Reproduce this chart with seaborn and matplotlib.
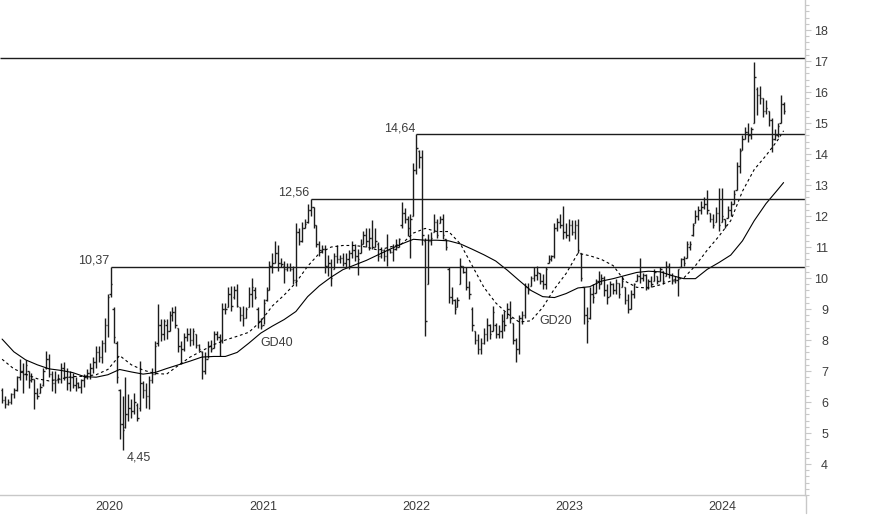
import numpy as np
import pandas as pd
import matplotlib
matplotlib.use("Agg")
import matplotlib.pyplot as plt
import matplotlib.dates as mdates
from matplotlib.ticker import FixedLocator, MultipleLocator
from matplotlib.lines import Line2D
import seaborn as sns
from datetime import datetime

# ---------------- data (weekly OHLC) ----------------
first_week = "2019-05-28"

high = [
    6.46, 6.20, 6.10, 6.30, 6.46, 6.85, 7.40, 7.27, 7.37, 7.00,
    6.95, 6.75, 6.46, 6.60, 7.10, 7.65, 7.55, 7.00, 7.00, 6.90,
    7.27, 7.30, 7.10, 7.00, 6.95, 6.80, 6.65, 6.75, 6.90, 7.07,
    7.27, 7.45, 7.80, 7.80, 8.00, 8.70, 9.50, 10.37,
    9.05, 7.98, 6.43, 6.20, 6.80, 6.27, 6.10, 6.30, 5.97, 7.33,
    6.68, 6.60, 6.85, 7.10, 7.98, 9.17, 8.69, 8.69, 8.69, 8.95,
    9.05, 9.10, 8.40, 7.98, 8.24, 8.40, 8.40, 8.40, 8.20, 7.88,
    7.65, 7.60, 7.98, 8.00, 8.30, 8.30, 8.20, 9.20, 9.20, 9.70,
    9.75, 9.75, 9.80, 9.05, 9.10, 9.05, 9.70, 10.00, 9.70, 9.05,
    8.70, 9.33, 9.70, 10.56, 10.80, 11.20, 11.05, 10.65, 10.56, 10.50,
    10.50, 10.40, 11.76, 11.63, 11.80, 11.90, 12.40, 12.56, 12.30, 11.70,
    11.20, 11.05, 11.05, 10.73, 10.60, 10.80, 11.05, 10.73, 10.80,
    10.80, 10.90, 11.20, 11.10, 10.95, 11.27, 11.53, 11.63, 11.63, 11.86,
    11.63, 11.15, 11.00, 10.95, 11.43, 10.95, 11.10, 11.27, 11.30, 12.45,
    12.27, 12.00, 12.08, 13.70, 14.64, 14.12, 14.12, 11.30, 11.43, 11.50,
    12.08, 11.92, 12.00, 12.08, 11.27, 10.34, 9.70, 9.33, 9.40,
    10.65, 10.40, 10.34, 9.92, 9.05, 8.30, 8.20, 8.07, 8.40, 8.72,
    8.53, 9.10, 8.56, 8.50, 8.85, 8.95, 9.20, 9.27, 8.56, 8.07,
    8.80, 8.95, 9.85, 9.85, 10.08, 10.34, 10.40, 10.17, 10.13, 10.34,
    10.73, 10.73, 11.76, 11.95, 12.08, 12.34, 11.76, 11.92, 11.86,
    11.86, 11.90, 10.80, 9.70, 9.05, 9.70, 9.80, 9.98, 10.24, 10.13,
    10.08, 9.80, 9.92, 9.85, 9.98, 9.85, 10.08, 9.70, 9.50, 9.60,
    9.85, 10.13, 10.65, 10.17, 10.13, 9.98, 10.05, 10.30, 10.08, 10.34,
    10.24, 10.56, 10.50, 10.15, 10.05, 10.30, 10.65, 10.70, 11.20,
    11.20, 11.76, 12.18, 12.34, 12.47, 12.60, 12.83, 12.10, 12.08, 12.30,
    12.90, 12.90, 11.92, 12.34, 12.50, 12.83, 13.73, 14.18, 14.60, 14.86,
    15.00, 14.86, 16.97, 16.15, 16.20, 15.80, 15.74, 15.40, 15.15, 14.80,
    15.00, 15.90, 15.67,
]

low = [
    5.97, 5.80, 5.90, 5.95, 6.13, 6.36, 6.70, 6.30, 6.70, 6.46,
    6.65, 5.78, 6.10, 6.30, 6.52, 7.07, 6.80, 6.36, 6.30, 6.60,
    6.60, 6.70, 6.40, 6.36, 6.46, 6.36, 6.45, 6.30, 6.50, 6.75,
    6.75, 6.93, 7.10, 7.30, 7.27, 7.60, 8.10, 9.40,
    7.90, 6.60, 4.80, 4.45, 5.16, 5.40, 5.50, 5.60, 5.40, 5.71,
    6.13, 5.80, 5.78, 6.60, 6.90, 7.80, 7.98, 8.00, 8.04, 8.30,
    8.62, 8.40, 7.60, 7.23, 7.65, 7.98, 7.80, 7.85, 7.75, 7.65,
    6.75, 6.90, 7.43, 7.60, 7.75, 8.00, 7.50, 7.90, 8.85, 9.05,
    8.95, 9.33, 9.05, 8.62, 8.46, 8.72, 9.05, 9.05, 9.33, 8.40,
    8.37, 8.53, 9.27, 9.60, 10.17, 10.47, 10.24, 10.34, 9.85, 10.24,
    10.24, 9.80, 9.75, 11.05, 11.15, 11.60, 11.76, 12.00, 11.60, 11.00,
    10.70, 10.80, 10.15, 10.08, 9.75, 10.30, 10.47, 10.50, 10.40,
    10.35, 10.30, 10.65, 10.56, 10.10, 10.80, 11.10, 11.00, 10.90, 10.95,
    11.00, 10.56, 10.65, 10.56, 10.40, 10.80, 10.56, 10.90, 11.00, 11.63,
    11.76, 11.37, 10.65, 12.00, 13.37, 13.55, 11.05, 8.14, 9.80, 11.05,
    11.47, 11.30, 11.76, 11.27, 10.90, 9.20, 9.17, 8.85, 9.05,
    9.80, 10.15, 9.60, 9.33, 8.30, 7.88, 7.56, 7.56, 7.88, 7.98,
    8.04, 8.30, 8.07, 8.07, 8.07, 8.30, 8.72, 8.56, 7.88, 7.30,
    7.56, 8.53, 8.72, 9.50, 9.75, 9.92, 9.95, 9.80, 9.65, 9.65,
    10.50, 10.56, 10.65, 11.53, 11.63, 11.27, 11.30, 11.20, 11.40,
    11.27, 10.80, 9.92, 8.53, 7.90, 8.69, 9.20, 9.53, 9.65, 9.80,
    9.43, 9.17, 9.43, 9.50, 9.47, 9.37, 9.70, 9.17, 8.88, 9.00,
    9.37, 9.92, 9.85, 9.92, 9.60, 9.65, 9.70, 9.92, 9.80, 9.92,
    9.80, 10.08, 10.00, 9.80, 9.85, 9.43, 10.34, 10.40, 10.65,
    10.90, 11.37, 11.76, 11.86, 12.08, 12.24, 12.08, 11.80, 11.60, 11.80,
    11.53, 11.80, 11.63, 11.95, 12.00, 12.40, 12.83, 13.40, 14.12, 14.50,
    14.40, 14.50, 15.00, 15.25, 15.60, 15.20, 15.30, 14.90, 14.05, 14.45,
    14.55, 15.00, 15.30,
]

open_ = [
    6.40, 6.05, 5.95, 6.00, 6.25, 6.40, 6.80, 7.00, 6.90, 7.00,
    6.70, 6.75, 6.30, 6.30, 6.55, 7.10, 7.40, 6.90, 6.60, 6.70,
    6.75, 7.10, 6.80, 6.60, 6.80, 6.55, 6.60, 6.50, 6.70, 6.80,
    6.95, 7.10, 7.30, 7.60, 7.45, 7.90, 8.50, 9.50,
    9.00, 7.90, 6.40, 5.30, 5.20, 5.60, 5.80, 5.70, 5.90, 5.80,
    6.60, 6.40, 6.20, 6.70, 6.90, 7.90, 8.50, 8.20, 8.50, 8.30,
    8.80, 8.90, 8.40, 7.80, 7.70, 8.10, 8.20, 8.00, 8.20, 7.85,
    7.60, 7.00, 7.40, 7.80, 7.75, 8.20, 8.10, 8.00, 9.00, 9.05,
    9.50, 9.40, 9.60, 9.05, 8.80, 8.70, 9.05, 9.50, 9.60, 9.00,
    8.60, 8.50, 9.30, 9.60, 10.40, 10.50, 10.80, 10.50, 10.40, 10.30,
    10.35, 10.30, 9.95, 11.50, 11.20, 11.60, 11.80, 12.20, 12.30, 11.70,
    11.10, 10.90, 10.95, 10.40, 10.50, 10.30, 10.70, 10.60, 10.65,
    10.50, 10.60, 10.80, 10.90, 10.70, 10.80, 11.10, 11.40, 11.20, 11.30,
    11.00, 11.10, 10.70, 10.90, 10.70, 10.90, 10.85, 10.95, 11.00, 11.70,
    12.10, 11.90, 11.60, 12.00, 13.50, 14.10, 13.90, 11.20, 9.80, 11.20,
    11.50, 11.80, 11.76, 11.90, 11.27, 10.30, 9.40, 9.30, 9.05,
    9.80, 10.40, 10.20, 9.70, 9.00, 8.30, 8.00, 7.70, 7.90, 8.20,
    8.50, 8.30, 8.50, 8.20, 8.30, 8.60, 8.72, 9.00, 8.56, 8.00,
    7.70, 8.70, 8.80, 9.70, 9.75, 10.00, 10.10, 10.17, 9.90, 9.80,
    10.50, 10.60, 10.70, 11.60, 11.80, 11.70, 11.50, 11.40, 11.70,
    11.50, 11.70, 10.80, 9.70, 8.80, 8.70, 9.50, 9.53, 9.90, 9.80,
    10.00, 9.60, 9.43, 9.80, 9.60, 9.85, 9.70, 9.70, 9.30, 9.00,
    9.50, 9.92, 10.05, 10.00, 10.10, 9.70, 9.90, 9.92, 10.08, 9.92,
    10.24, 10.08, 10.40, 10.10, 9.90, 9.95, 10.34, 10.60, 10.65,
    11.00, 11.40, 11.76, 12.00, 12.20, 12.30, 12.40, 12.10, 11.90, 11.80,
    12.10, 11.80, 11.90, 11.95, 12.20, 12.40, 12.83, 13.60, 14.12, 14.50,
    14.70, 14.60, 15.00, 16.10, 15.90, 15.80, 15.40, 15.40, 15.10, 14.50,
    14.60, 15.00, 15.60,
]

close = [
    6.05, 5.95, 6.00, 6.25, 6.40, 6.80, 7.00, 6.90, 7.20, 6.70,
    6.75, 6.30, 6.20, 6.50, 7.00, 7.40, 6.90, 6.60, 6.70, 6.75,
    7.10, 6.80, 6.60, 6.80, 6.55, 6.60, 6.50, 6.70, 6.80, 6.95,
    7.10, 7.30, 7.60, 7.45, 7.90, 8.50, 9.40, 9.80,
    8.10, 6.80, 5.30, 5.10, 5.60, 5.80, 5.70, 6.00, 5.50, 6.60,
    6.40, 6.20, 6.70, 6.90, 7.80, 8.50, 8.20, 8.60, 8.30, 8.80,
    8.90, 8.50, 7.80, 7.70, 8.10, 8.20, 8.00, 8.30, 7.85, 7.70,
    7.00, 7.40, 7.80, 7.70, 8.20, 8.10, 8.00, 9.00, 9.00, 9.50,
    9.10, 9.60, 9.10, 8.80, 8.70, 9.00, 9.50, 9.70, 9.40, 8.60,
    8.45, 9.20, 9.60, 10.40, 10.50, 10.80, 10.50, 10.45, 10.30, 10.35,
    10.30, 9.95, 11.50, 11.20, 11.60, 11.75, 12.20, 12.30, 11.70, 11.10,
    10.90, 10.95, 10.40, 10.50, 10.00, 10.70, 10.60, 10.65, 10.50,
    10.60, 10.80, 10.90, 10.70, 10.60, 11.10, 11.40, 11.20, 11.30, 11.00,
    11.20, 10.70, 10.90, 10.70, 10.90, 10.85, 10.95, 11.00, 11.25, 12.10,
    11.90, 11.60, 11.90, 13.50, 14.20, 13.90, 11.40, 8.60, 11.20, 11.30,
    11.80, 11.40, 11.90, 11.40, 11.00, 9.40, 9.30, 9.00, 9.30,
    10.40, 10.20, 9.70, 9.50, 8.50, 8.00, 7.70, 7.90, 8.20, 8.50,
    8.20, 8.90, 8.20, 8.30, 8.60, 8.50, 9.00, 8.70, 8.00, 7.70,
    8.70, 8.80, 9.70, 9.60, 10.00, 10.10, 10.20, 9.90, 9.80, 10.30,
    10.60, 10.70, 11.60, 11.80, 11.70, 11.50, 11.40, 11.70, 11.50,
    11.70, 10.90, 10.00, 8.80, 8.60, 9.50, 9.40, 9.90, 9.80, 10.00,
    9.60, 9.40, 9.80, 9.60, 9.85, 9.50, 9.90, 9.30, 9.00, 9.50,
    9.80, 10.05, 10.00, 10.10, 9.70, 9.90, 9.80, 10.20, 9.90, 10.30,
    9.90, 10.40, 10.10, 9.90, 9.95, 10.30, 10.60, 10.50, 11.10,
    11.10, 11.70, 12.00, 12.20, 12.30, 12.40, 12.20, 11.90, 11.70, 12.10,
    11.70, 12.00, 11.70, 12.20, 12.40, 12.70, 13.60, 14.10, 14.50, 14.70,
    14.60, 14.80, 16.50, 15.90, 15.80, 15.40, 15.50, 15.10, 14.50, 14.60,
    14.90, 15.60, 15.40,
]

# moving averages read every 4th week (plus the last week)
gd40 = [
    8.03, 7.62, 7.36, 7.20, 7.07, 7.02, 6.95, 6.82, 6.80, 6.88,
    7.05, 6.97, 6.90, 6.95, 7.08, 7.20, 7.32, 7.45, 7.47, 7.47,
    7.60, 7.90, 8.22, 8.45, 8.66, 8.92, 9.40, 9.75, 10.03, 10.27,
    10.42, 10.57, 10.75, 10.93, 11.10, 11.25, 11.22, 11.22, 11.20, 11.10,
    10.93, 10.75, 10.55, 10.25, 9.92, 9.60, 9.40, 9.37, 9.50, 9.68,
    9.72, 9.90, 9.98, 10.08, 10.18, 10.22, 10.20, 10.08, 9.98, 9.98,
    10.28, 10.50, 10.74, 11.20, 11.85, 12.40, 12.85, 13.08,
]
gd20 = [
    7.38, 7.07, 6.90, 6.75, 6.68, 6.75, 6.82, 6.83, 6.88, 7.05,
    7.50, 7.20, 7.03, 6.92, 6.90, 7.18, 7.45, 7.65, 7.85, 8.00,
    8.12, 8.25, 8.60, 9.10, 9.45, 9.85, 10.38, 10.80, 11.00, 11.05,
    11.05, 11.00, 10.90, 11.00, 11.10, 11.45, 11.60, 11.50, 11.50, 11.10,
    10.40, 9.70, 9.20, 8.85, 8.58, 8.62, 9.05, 9.65, 10.15, 10.80,
    10.72, 10.60, 10.40, 9.90, 9.70, 9.68, 9.78, 9.92, 10.00, 10.40,
    10.90, 11.35, 11.85, 12.80, 13.50, 13.95, 14.45, 14.75,
]

levels = [10.37, 12.56, 14.64]
top_level = 17.1
years = [2020, 2021, 2022, 2023, 2024]
y_ticks = list(range(4, 19))
ma_labels = [("GD40", "2021-02-01", 7.9), ("GD20", "2022-11-29", 8.6)]

n = len(close)
assert len(high) == n and len(low) == n and len(open_) == n, (len(high), len(low), len(open_), n)

# ---------------- plotting ----------------
sns.set_theme(style="white")
plt.rcParams["font.family"] = ["Liberation Sans", "DejaVu Sans"]

txt_c = "#3c3c3c"
bar_c = "#1c1c1c"
axis_c = "#c8c8c8"

fig = plt.figure(figsize=(8.74, 5.15), dpi=100)
ax = fig.add_axes([0, 20 / 515, 805 / 874, 495 / 515])

weeks = pd.date_range(first_week, periods=n, freq="7D")
xw = mdates.date2num(weeks.to_pydatetime())
hw = 3.2  # half-bar tick width in days

ax.vlines(xw, low, high, color=bar_c, lw=1.0)
ax.hlines(open_, xw - hw, xw, color=bar_c, lw=1.0)
ax.hlines(close, xw, xw + hw, color=bar_c, lw=1.0)

ma_idx = list(range(0, n - 1, 4)) + [n - 1]
ma_x = xw[ma_idx]
sns.lineplot(x=ma_x, y=gd40, color="black", lw=0.8, ax=ax, estimator=None, sort=False)
sns.lineplot(x=ma_x, y=gd20, color="black", lw=0.8, ax=ax, estimator=None, sort=False,
             linestyle=(0, (2.5, 2.5)))

xmin = mdates.date2num(datetime(2019, 5, 23))
xmax = mdates.date2num(datetime(2024, 8, 22))
ax.set_xlim(xmin, xmax)
ax.set_ylim(3.0, 18.97)

hi = np.array(high)
lo = np.array(low)
for lv in levels:
    i = int(np.argmin(np.abs(hi - lv)))
    ax.hlines(lv, xw[i], xmax, color=bar_c, lw=1.0)
    ax.annotate(f"{lv:.2f}".replace(".", ","), xy=(xw[i], lv), xytext=(-1, 3),
                textcoords="offset pixels", ha="right", va="baseline",
                fontsize=9, color=txt_c)
ax.hlines(top_level, xmin, xmax, color=bar_c, lw=1.0)

il = int(np.argmin(lo))
ax.annotate(f"{lo[il]:.2f}".replace(".", ","), xy=(xw[il], lo[il]), xytext=(4, -1),
            textcoords="offset pixels", ha="left", va="top", fontsize=9, color=txt_c)

for name, d, v in ma_labels:
    ax.text(mdates.date2num(datetime.fromisoformat(d)), v, name, ha="left", va="center",
            fontsize=9, color=txt_c)

# axes styling
for s in ["top", "left"]:
    ax.spines[s].set_visible(False)
for s in ["right", "bottom"]:
    ax.spines[s].set_color(axis_c)
    ax.spines[s].set_linewidth(1.0)

ax.xaxis.set_major_locator(mdates.YearLocator())
ax.xaxis.set_minor_locator(mdates.MonthLocator())
ax.tick_params(axis="x", which="major", length=14.5, width=0.8, color=axis_c,
               direction="out", labelbottom=False)
ax.tick_params(axis="x", which="minor", length=2.2, width=0.8, color=axis_c, direction="out")
for yr in years:
    ax.annotate(str(yr), xy=(mdates.date2num(datetime(yr, 1, 1)), 0),
                xycoords=("data", "axes fraction"), xytext=(2, -6),
                textcoords="offset pixels", ha="left", va="top", fontsize=9, color=txt_c)

ax.yaxis.tick_right()
ax.yaxis.set_major_locator(FixedLocator(y_ticks))
ax.yaxis.set_minor_locator(MultipleLocator(0.2))
ax.tick_params(axis="y", which="major", length=4, width=0.8, color=axis_c,
               direction="out", labelsize=9, labelcolor=txt_c, pad=12.5)
ax.tick_params(axis="y", which="minor", length=3, width=0.8, color=axis_c, direction="out")
ax.set_yticks(y_ticks)
ax.set_yticklabels([str(t) for t in y_ticks])
for lab in ax.get_yticklabels():
    lab.set_horizontalalignment("right")

ax.grid(False)
ax.set_facecolor("white")
fig.add_artist(Line2D([805.5 / 874, 805.5 / 874], [0.003, 20 / 515], transform=fig.transFigure,
                      color=axis_c, lw=1.0))

fig.savefig("out.png", dpi=100)
